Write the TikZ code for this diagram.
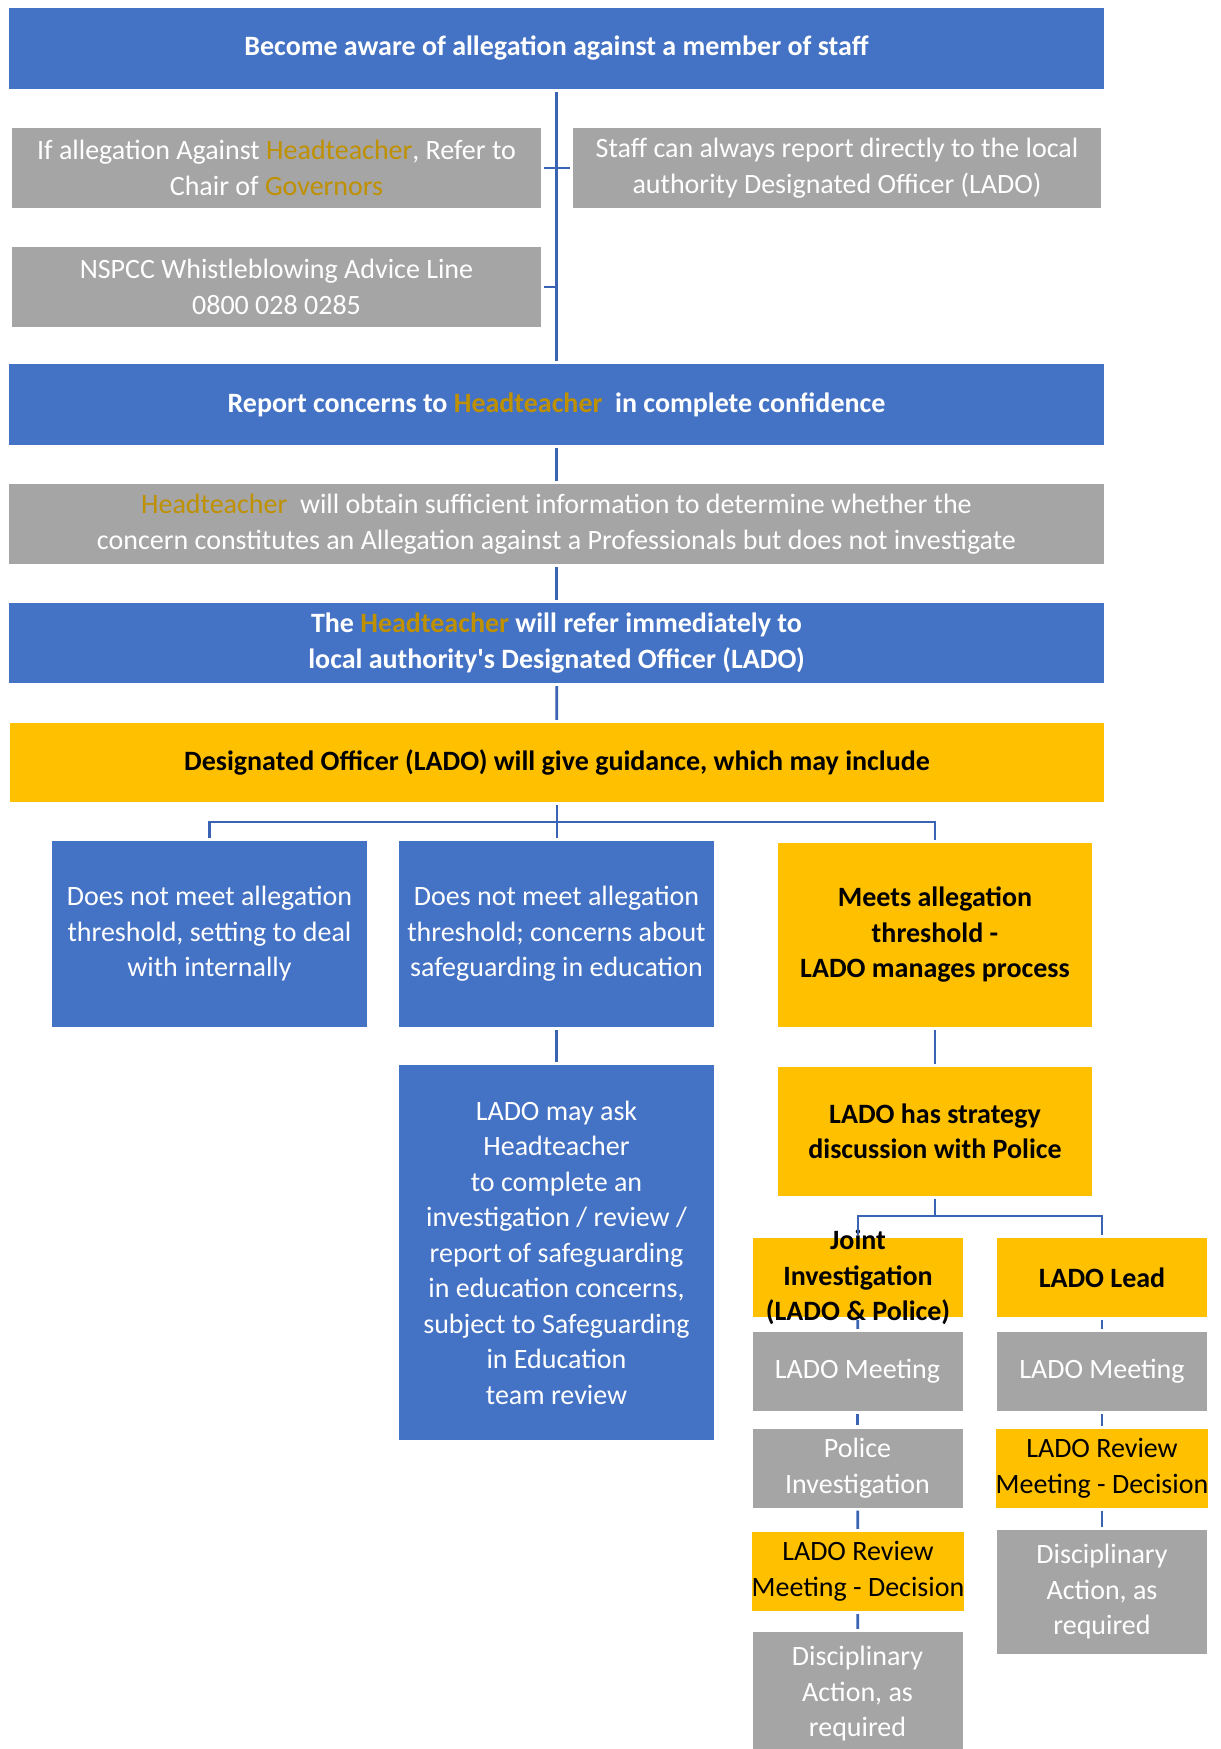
\documentclass[tikz,border=0pt]{standalone}
\usepackage{fontspec}
\setmainfont{Carlito}

\definecolor{ladoblue}{HTML}{4472C4}
\definecolor{ladogrey}{HTML}{A5A5A5}
\definecolor{ladogold}{HTML}{FFC000}
\definecolor{headgold}{HTML}{BF9000}
\definecolor{linkblue}{HTML}{3B63B3}

\newcommand{\head}[1]{\textcolor{headgold}{#1}}

\tikzset{
  wh/.style n args={2}{minimum width=#1pt, minimum height=#2pt},
  box/.style={inner sep=0pt, align=center, text=white,
    font=\fontsize{28}{35.5}\selectfont},
  bold/.style={font=\fontsize{28}{35.5}\selectfont\bfseries},
  bluebox/.style={box, fill=ladoblue},
  greybox/.style={box, fill=ladogrey},
  goldbox/.style={box, fill=ladogold, text=black},
  stepbox/.style={wh={210}{79}},
  link/.style={draw=linkblue, line width=2.7pt, shorten <=3pt, shorten >=3pt}
}

\begin{document}
\begin{tikzpicture}[x=1pt,y=-1pt]
  \clip (0,0) rectangle (1221,1749);

  \node[bluebox, bold, wh={1095}{81}] (aware) at (556.5,48.5)
    {Become aware of allegation against a member of staff};
  \node[greybox, wh={529}{80}] (chair) at (276.5,168)
    {If allegation Against \head{Headteacher}, Refer to\\Chair of \head{Governors}};
  \node[greybox, wh={528}{80}] (direct) at (837,168)
    {Staff can always report directly to the local\\authority Designated Officer (LADO)};
  \node[greybox, wh={529}{80}] (nspcc) at (276.5,287)
    {NSPCC Whistleblowing Advice Line\\0800 028 0285};

  \node[bluebox, bold, wh={1095}{81}] (report) at (556.5,404.5)
    {Report concerns to \head{Headteacher}\ \ in complete confidence};
  \node[greybox, wh={1095}{80}] (obtain) at (556.5,524)
    {\head{Headteacher}\ \ will obtain sufficient information to determine whether the\\
     concern constitutes an Allegation against a Professionals but does not investigate};
  \node[bluebox, bold, wh={1095}{80}] (refer) at (556.5,643)
    {The \head{Headteacher} will refer immediately to\\local authority\textquotesingle s Designated Officer (LADO)};
  \node[goldbox, bold, wh={1094}{79}] (guide) at (557,762.5)
    {Designated Officer (LADO) will give guidance, which may include};

  \node[bluebox, wh={315}{186}] (internal) at (209.5,934)
    {Does not meet allegation\\threshold, setting to deal\\with internally};
  \node[bluebox, wh={315}{186}] (education) at (556.5,934)
    {Does not meet allegation\\threshold; concerns about\\safeguarding in education};
  \node[goldbox, bold, wh={314}{184}] (meets) at (935,935)
    {Meets allegation\\threshold -\\LADO manages process};

  \node[bluebox, wh={315}{375}] (ask) at (556.5,1252.5)
    {LADO may ask\\Headteacher\\to complete an\\investigation / review /\\report of safeguarding\\
     in education concerns,\\subject to Safeguarding\\in Education\\team review};
  \node[goldbox, bold, wh={314}{129}] (strategy) at (935,1131.5)
    {LADO has strategy\\discussion with Police};

  \node[goldbox, stepbox] (joint) at (858,1277.5) {};
  \node[box, bold, text=black] (jointtext) at (joint.center)
    {Joint\\Investigation\\(LADO \& Police)};
  \node[goldbox, bold, stepbox] (lead) at (1102,1277.5) {LADO Lead};

  \node[greybox, stepbox] (meetj) at (857.5,1371.5) {LADO Meeting};
  \node[greybox, stepbox] (police) at (857.5,1468) {Police\\Investigation};
  \node[goldbox, stepbox] (reviewj) at (858,1571.5) {LADO Review\\Meeting - Decision};
  \node[greybox, stepbox, wh={210}{124}] (discj) at (857.5,1694)
    {Disciplinary\\Action, as\\required};

  \node[greybox, stepbox] (meetl) at (1102,1371.5) {LADO Meeting};
  \node[goldbox, stepbox] (reviewl) at (1102,1468.5) {LADO Review\\Meeting - Decision};
  \node[greybox, stepbox, wh={210}{124}] (discl) at (1102,1592)
    {Disciplinary\\Action, as\\required};

  \coordinate (forkA) at (557,822);
  \coordinate (forkB) at (935,1216);

  \foreach \a/\b in {aware/report, report/obtain, obtain/refer, refer/guide,
      chair/direct, education/ask, meets/strategy,
      joint/meetj, meetj/police, police/reviewj, reviewj/discj,
      lead/meetl, meetl/reviewl, reviewl/discl}
    \draw[link] (\a) -- (\b);

  \draw[link, shorten >=0pt] (nspcc.east) -- (nspcc.east -| aware.south);
  \draw[link] (guide.south) -- (guide.south |- education.north);
  \draw[link] (internal.north) |- (forkA) -| (meets.north);
  \draw[link, shorten >=0pt] (strategy.south) -- (strategy.south |- forkB);
  \draw[link] (joint.north) |- (forkB) -| (lead.north);
\end{tikzpicture}
\end{document}
